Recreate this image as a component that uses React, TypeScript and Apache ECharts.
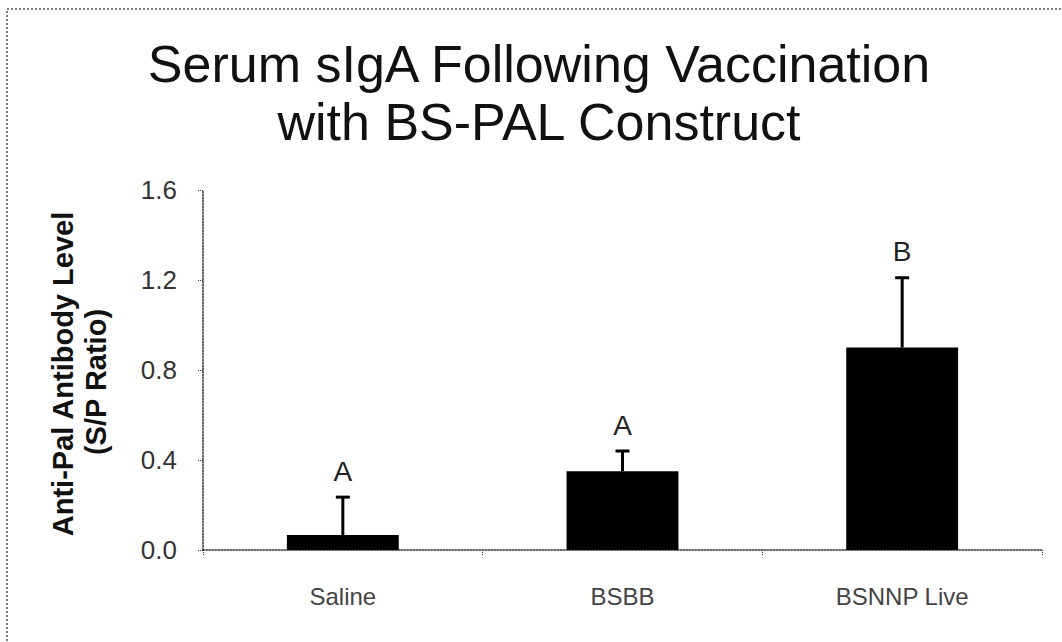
import React, { useEffect, useRef } from "react";
import * as echarts from "echarts";

const categories = ["Saline", "BSBB", "BSNNP Live"];
const means = [0.067, 0.35, 0.9];
const errors = [0.168, 0.09, 0.31];
const letters = ["A", "A", "B"];
const titleLines = ["Serum sIgA Following Vaccination", "with BS-PAL Construct"];
const yNameLines = ["Anti-Pal Antibody Level", "(S/P Ratio)"];

export default function App() {
  const ref = useRef<HTMLDivElement>(null);
  useEffect(() => {
    if (!ref.current) return;
    const chart = echarts.init(ref.current, null, { renderer: "svg" });
    const errData = categories.map((_, i) => [i, means[i], errors[i]]);
    chart.setOption({
      animation: false,
      backgroundColor: "#fff",
      grid: { left: 203, right: 20, top: 190, bottom: 92, containLabel: false },
      xAxis: {
        type: "category",
        data: categories,
        axisLine: { lineStyle: { color: "#333", type: "dotted", width: 1.5 } },
        axisTick: { show: true, length: 5, lineStyle: { color: "#333", type: "dotted" } },
        axisLabel: {
          color: "#444",
          fontFamily: "Liberation Sans, Arial, sans-serif",
          fontSize: 24,
          margin: 34,
        },
      },
      yAxis: {
        type: "value",
        min: 0,
        max: 1.6,
        interval: 0.4,
        splitLine: { show: false },
        axisLine: { show: true, lineStyle: { color: "#333", type: "dotted", width: 1.5 } },
        axisTick: { show: true, length: 5, lineStyle: { color: "#333", type: "dotted" } },
        axisLabel: {
          color: "#333",
          fontFamily: "Liberation Sans, Arial, sans-serif",
          fontSize: 26,
          margin: 26,
          formatter: (v: number) => v.toFixed(1),
        },
      },
      graphic: [
        {
          type: "rect",
          shape: { x: 7, y: 9, width: 1100, height: 700 },
          style: { fill: "none", stroke: "#555", lineWidth: 1.5, lineDash: [2, 2] },
          silent: true,
        },
        {
          type: "text",
          x: 539,
          y: 64,
          style: {
            text: titleLines[0],
            font: "52px 'Liberation Sans', Arial, sans-serif",
            fill: "#111",
            textAlign: "center",
            textVerticalAlign: "middle",
          },
        },
        {
          type: "text",
          x: 539,
          y: 122,
          style: {
            text: titleLines[1],
            font: "52px 'Liberation Sans', Arial, sans-serif",
            fill: "#111",
            textAlign: "center",
            textVerticalAlign: "middle",
          },
        },
        {
          type: "text",
          x: 63,
          y: 374,
          rotation: Math.PI / 2,
          style: {
            text: yNameLines[0],
            font: "bold 29px 'Liberation Sans', Arial, sans-serif",
            fill: "#111",
            textAlign: "center",
            textVerticalAlign: "middle",
          },
        },
        {
          type: "text",
          x: 96,
          y: 382,
          rotation: Math.PI / 2,
          style: {
            text: yNameLines[1],
            font: "bold 29px 'Liberation Sans', Arial, sans-serif",
            fill: "#111",
            textAlign: "center",
            textVerticalAlign: "middle",
          },
        },
      ],
      series: [
        {
          type: "bar",
          data: means,
          barWidth: "40%",
          itemStyle: { color: "#000" },
          z: 2,
        },
        {
          type: "custom",
          data: errData,
          encode: { x: 0, y: 1 },
          z: 3,
          renderItem: (params: any, api: any) => {
            const x = api.value(0);
            const m = api.value(1);
            const e = api.value(2);
            const base = api.coord([x, m]);
            const top = api.coord([x, m + e]);
            const cap = 7;
            const style = { stroke: "#000", lineWidth: 3 };
            return {
              type: "group",
              children: [
                { type: "line", shape: { x1: base[0], y1: base[1], x2: top[0], y2: top[1] }, style },
                { type: "line", shape: { x1: top[0] - cap, y1: top[1], x2: top[0] + cap, y2: top[1] }, style },
                {
                  type: "text",
                  x: top[0],
                  y: top[1] - 12,
                  style: {
                    text: letters[params.dataIndex],
                    font: "28px 'Liberation Sans', Arial, sans-serif",
                    fill: "#222",
                    textAlign: "center",
                    textVerticalAlign: "bottom",
                  },
                },
              ],
            };
          },
        },
      ],
    });
    return () => chart.dispose();
  }, []);
  return (
    <div
      ref={ref}
      style={{ position: "fixed", left: 0, top: 0, width: 1062, height: 642, background: "#fff" }}
    />
  );
}
